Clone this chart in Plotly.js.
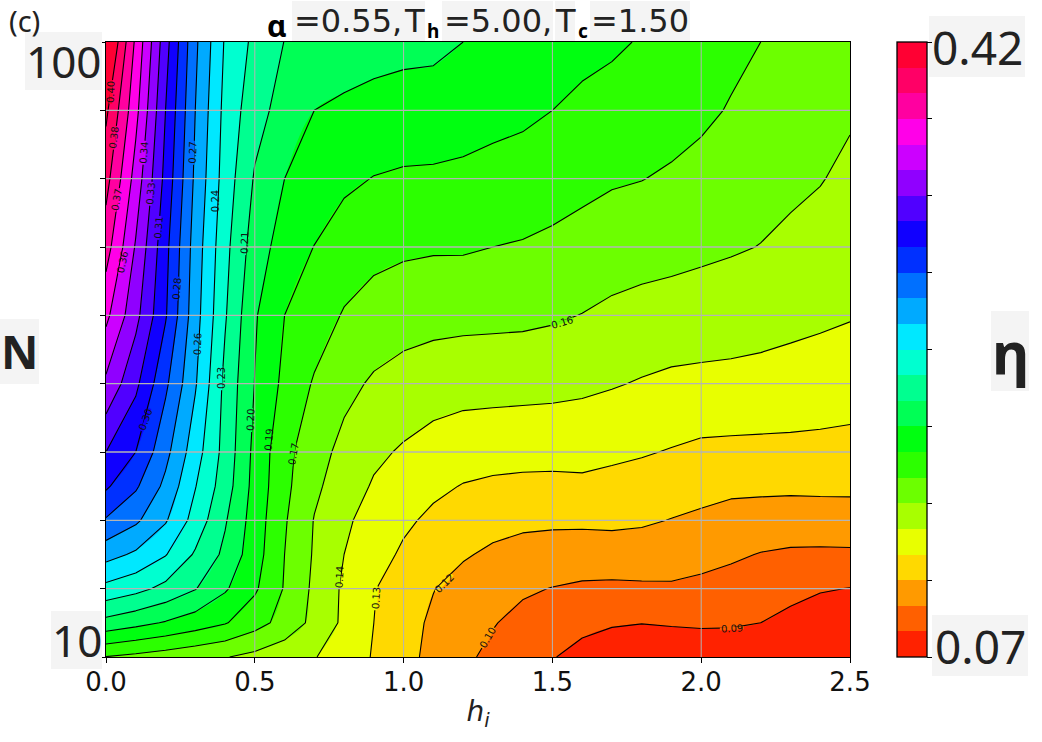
<!DOCTYPE html>
<html>
<head>
<meta charset="utf-8">
<script src="https://cdn.plot.ly/plotly-3.0.1.min.js"></script>
<style>html,body{margin:0;padding:0;background:#fff}</style>
</head>
<body>
<div id="chart" style="width:1042px;height:742px"></div>
<script>
const hValues = [0,0.1,0.2,0.3,0.4,0.5,0.6,0.7,0.8,0.9,1.0,1.1,1.2,1.3,1.4,1.5,1.6,1.7,1.8,1.9,2.0,2.1,2.2,2.3,2.4,2.5];
const nValues = [10,15,20,25,30,35,40,50,60,70,80,90,100];

const etaN10 = [.1717,.1687,.1655,.1621,.1587,.1542,.1493,.1446,.1370,.1288,.1199,.1120,.1039,.0988,.0936,.0883,.0826,.0790,.0783,.0790,.0804,.0812,.0804,.0755,.0734,.0734];
const etaN15 = [.2097,.2045,.1992,.1933,.1872,.1777,.1669,.1542,.1412,.1298,.1208,.1134,.1079,.1023,.0981,.0944,.0914,.0888,.0878,.0885,.0889,.0886,.0875,.0836,.0807,.0804];
const etaN20 = [.2384,.2327,.2246,.2151,.2020,.1882,.1711,.1552,.1416,.1305,.1228,.1161,.1109,.1081,.1033,.1012,.0995,.0989,.0995,.0999,.0982,.0962,.0943,.0916,.0885,.0872];
const etaN25 = [.2619,.2544,.2434,.2268,.2113,.1923,.1721,.1566,.1439,.1353,.1277,.1225,.1170,.1134,.1109,.1095,.1087,.1092,.1089,.1078,.1061,.1037,.1010,.0996,.0993,.0995];
const etaN30 = [.2835,.2733,.2581,.2372,.2158,.1938,.1735,.1574,.1462,.1387,.1322,.1270,.1230,.1201,.1185,.1181,.1182,.1185,.1175,.1153,.1133,.1110,.1098,.1092,.1095,.1098];
const etaN35 = [.3011,.2869,.2674,.2432,.2213,.1954,.1756,.1607,.1510,.1425,.1370,.1326,.1292,.1275,.1267,.1264,.1270,.1257,.1243,.1222,.1201,.1185,.1184,.1182,.1184,.1184];
const etaN40 = [.3131,.2990,.2750,.2489,.2236,.1965,.1763,.1634,.1542,.1467,.1423,.1384,.1359,.1349,.1343,.1342,.1342,.1325,.1309,.1290,.1270,.1266,.1264,.1263,.1260,.1254];
const etaN50 = [.3385,.3163,.2877,.2581,.2250,.1999,.1827,.1707,.1618,.1562,.1529,.1504,.1491,.1488,.1484,.1478,.1466,.1449,.1429,.1411,.1405,.1401,.1394,.1385,.1374,.1363];
const etaN60 = [.3588,.3314,.3004,.2623,.2299,.2017,.1862,.1792,.1710,.1662,.1636,.1624,.1618,.1614,.1610,.1597,.1577,.1552,.1535,.1525,.1515,.1505,.1493,.1476,.1462,.1447];
const etaN70 = [.3756,.3399,.3032,.2645,.2327,.2074,.1940,.1859,.1800,.1763,.1744,.1735,.1735,.1721,.1711,.1694,.1673,.1648,.1634,.1622,.1607,.1593,.1577,.1549,.1525,.1498];
const etaN80 = [.3887,.3498,.3089,.2680,.2363,.2130,.2003,.1954,.1887,.1858,.1845,.1842,.1834,.1817,.1801,.1780,.1756,.1735,.1724,.1703,.1677,.1651,.1627,.1611,.1587,.1548];
const etaN90 = [.4005,.3596,.3131,.2708,.2384,.2198,.2088,.2003,.1971,.1949,.1941,.1937,.1921,.1904,.1890,.1862,.1831,.1810,.1792,.1777,.1749,.1711,.1674,.1665,.1641,.1598];
const etaN100 = [.4189,.3667,.3187,.2736,.2412,.2250,.2141,.2119,.2095,.2066,.2045,.2038,.2003,.1975,.1954,.1933,.1904,.1883,.1852,.1820,.1784,.1756,.1721,.1707,.1693,.1651];
const etaRows = [etaN10,etaN15,etaN20,etaN25,etaN30,etaN35,etaN40,etaN50,etaN60,etaN70,etaN80,etaN90,etaN100];

const levelStart = 0.0875, levelSize = 0.0141, levelEnd = 0.398;
const barMin = 0.0734, barMax = 0.4118;
const bandColors = ['#ff2200','#ff6000','#ff9a00','#ffd900','#e8ff00','#a8ff00','#6cff00','#2cff00','#00ff10','#00ff55','#00ff90','#00ffd0','#00e8ff','#00aaff','#0070ff','#0030ff','#1000ff','#5000ff','#9000ff','#cc00ff','#ff00e8','#ff00a0','#ff0066','#ff0033'];

const labelText = ['0.40','0.38','0.37','0.36','0.34','0.33','0.31','0.30','0.28','0.27','0.26','0.24','0.23','0.21','0.20','0.19','0.17','0.16','0.14','0.13','0.12','0.10','0.09'];
const labelLevel = [22,21,20,19,18,17,16,15,14,13,12,11,10,9,8,7,6,5,4,3,2,1,0];
const labelH = [.017,.027,.037,.054,.128,.151,.178,.134,.239,.292,.306,.366,.386,.467,.487,.548,.628,1.532,.783,.907,1.136,1.284,2.103];
const labelN = [92.7,86.0,76.9,67.8,83.8,77.8,72.8,44.7,63.9,83.8,55.8,76.7,50.8,70.6,44.7,41.8,39.7,59.0,21.7,18.6,20.8,12.8,14.2];
const labelAngle = [-88,-83,-80,-78,-85,-85,-85,-70,-85,-88,-88,-90,-90,-88,-88,-85,-80,-17,-87,-87,-45,-60,-3];

const gridH = [0.5,1.0,1.5,2.0];
const gridN = [20,30,40,50,60,70,80,90];
const xTicks = [0,0.5,1.0,1.5,2.0,2.5];
const xTickText = ['0.0','0.5','1.0','1.5','2.0','2.5'];
const yTicks = [10,20,30,40,50,60,70,80,90,100];
const barTicks = [0.0734,0.1157,0.1580,0.2003,0.2426,0.2849,0.3272,0.3695,0.4118];

const L=106,R=850,T=42,B=657;
const px = x => (x-L)/(R-L);
const py = y => (B-y)/(B-T);

const steppedScale = [];
bandColors.forEach((c,i)=>{steppedScale.push([i/24,c]);steppedScale.push([(i+1)/24,c]);});

const contourCommon = {type:'contour',x:hValues,y:nValues,z:etaRows,hoverinfo:'skip',autocontour:false};

const fillTrace = Object.assign({},contourCommon,{
  colorscale:steppedScale,zauto:false,zmin:barMin,zmax:barMax,
  contours:{start:levelStart,end:levelEnd,size:levelSize,coloring:'fill',showlines:false},
  line:{width:0},
  colorbar:{thickness:30,thicknessmode:'pixels',len:1,lenmode:'fraction',x:px(897),xanchor:'left',y:0,yanchor:'bottom',xpad:0,ypad:0,
    outlinewidth:1.3,outlinecolor:'#000',borderwidth:0,ticks:'outside',ticklen:5,tickwidth:1,tickcolor:'#000',
    tickmode:'array',tickvals:barTicks,showticklabels:false}
});
const lineTrace = Object.assign({},contourCommon,{
  showscale:false,
  contours:{start:levelStart,end:levelEnd,size:levelSize,coloring:'none'},
  line:{color:'#000',width:1.1,smoothing:0}
});

const annotations=[], shapes=[];
function label(text,x0,x1,y0,y1,size,weight,bg,color,family){
  if(bg) shapes.push({type:'rect',xref:'paper',yref:'paper',x0:px(x0),x1:px(x1),y0:py(y0),y1:py(y1),fillcolor:bg,line:{width:0},layer:'above'});
  annotations.push({xref:'paper',yref:'paper',x:px((x0+x1)/2),y:py((y0+y1)/2),xanchor:'center',yanchor:'middle',showarrow:false,
    borderpad:0,text:weight?'<b>'+text+'</b>':text,
    font:{family:family||'Noto Sans',size:size,color:color||'#222'}});
}
const grey='#f4f4f4';
label('100',25,102,32,90,44,false,grey);
label('10',51,102,611,669,44,false,grey);
label('(c)',7,42,3,39,29,false,null,'#222');
label('N',0,39,319,384,46,true,grey);
label('η',991,1029,311,391,58,true,grey);
label('0.42',929,1025,16,77,46,false,grey);
label('0.07',932,1028,615,676,46,false,grey);
label('α',266,288,8,42,30,true,null,'#000');
label('=0.55,',292,403,1,41,32,false,grey,'#222','DejaVu Sans');
label('T',403,425,1,41,32,false,grey,'#222','DejaVu Sans');
label('h',425,440,20,42,19,true,null,'#000');
label('=5.00,',442,553,1,41,32,false,grey,'#222','DejaVu Sans');
label('T',555,575,1,41,32,false,grey,'#222','DejaVu Sans');
label('c',575,590,20,42,19,true,null,'#000');
label('=1.50',590,690,1,41,32,false,grey,'#222','DejaVu Sans');

labelText.forEach((t,i)=>{
  const a=labelAngle[i]*Math.PI/180, half=12;
  const dh=half*Math.cos(a)/((R-L)/2.5), dn=half*Math.sin(a)/((B-T)/90);
  shapes.push({type:'line',xref:'x',yref:'y',x0:labelH[i]-dh,x1:labelH[i]+dh,y0:labelN[i]+dn,y1:labelN[i]-dn,
    line:{color:bandColors[labelLevel[i]+1],width:3},layer:'above'});
  annotations.push({x:labelH[i],y:labelN[i],xref:'x',yref:'y',text:t,showarrow:false,textangle:labelAngle[i],
    borderpad:0,font:{family:'DejaVu Sans',size:10,color:'#111'}});
});

gridH.forEach(v=>shapes.push({type:'line',xref:'x',yref:'paper',x0:v,x1:v,y0:0,y1:1,line:{color:'#b4b4b4',width:1},layer:'above'}));
gridN.forEach(v=>shapes.push({type:'line',xref:'paper',yref:'y',x0:0,x1:1,y0:v,y1:v,line:{color:'#b4b4b4',width:1.3},layer:'above'}));

const layout={
  width:1042,height:742,autosize:false,paper_bgcolor:'#fff',plot_bgcolor:'#fff',showlegend:false,
  margin:{l:L,r:1042-R,t:T,b:742-B,pad:0},
  xaxis:{range:[0,2.5],tickmode:'array',tickvals:xTicks,ticktext:xTickText,ticks:'outside',ticklen:5,tickwidth:1,tickcolor:'#000',
    showgrid:false,zeroline:false,showline:true,mirror:true,linecolor:'#000',linewidth:1.3,layer:'above traces',
    tickfont:{family:'DejaVu Sans',size:26,color:'#111'},ticklabelstandoff:-4,
    title:{text:'<i>h<sub>i</sub></i>',standoff:6,font:{family:'DejaVu Sans',size:28,color:'#222'}}},
  yaxis:{range:[10,100],tickmode:'array',tickvals:yTicks,showticklabels:false,ticks:'outside',ticklen:5,tickwidth:1,tickcolor:'#000',
    showgrid:false,zeroline:false,showline:true,mirror:true,linecolor:'#000',linewidth:1.3,layer:'above traces'},
  annotations:annotations,shapes:shapes
};
Plotly.newPlot('chart',[fillTrace,lineTrace],layout,{displayModeBar:false,staticPlot:true});
</script>
</body>
</html>
